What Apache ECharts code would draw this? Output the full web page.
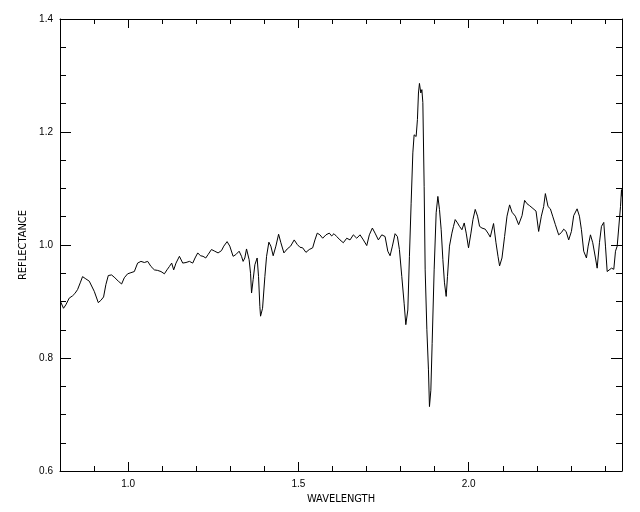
<!DOCTYPE html>
<html>
<head>
<meta charset="utf-8">
<script src="https://cdn.jsdelivr.net/npm/echarts@6/dist/echarts.min.js"></script>
<style>
html, body { margin: 0; padding: 0; background: #ffffff; }
#chart { width: 640px; height: 512px; }
</style>
</head>
<body>
<div id="chart"></div>
<script>
// ---- data ----
const wavelength = [
  0.8015, 0.8103, 0.8171, 0.8271, 0.8368, 0.8435, 0.8515, 0.8594, 0.8662, 0.8759,
  0.8859, 0.8906, 0.9006, 0.9124, 0.9200, 0.9279, 0.9347, 0.9418, 0.9515, 0.9612,
  0.9712, 0.9809, 0.9888, 0.9985, 1.0082, 1.0182, 1.0279, 1.0376, 1.0476, 1.0574,
  1.0671, 1.0771, 1.0868, 1.0965, 1.1065, 1.1141, 1.1212, 1.1279, 1.1338, 1.1406,
  1.1506, 1.1603, 1.1700, 1.1800, 1.1897, 1.1965, 1.2044, 1.2124, 1.2200, 1.2279,
  1.2347, 1.2447, 1.2544, 1.2641, 1.2741, 1.2809, 1.2906, 1.2985, 1.3082, 1.3162,
  1.3259, 1.3329, 1.3376, 1.3426, 1.3476, 1.3524, 1.3553, 1.3594, 1.3624, 1.3671,
  1.3721, 1.3788, 1.3829, 1.3868, 1.3888, 1.3947, 1.4015, 1.4065, 1.4132, 1.4191,
  1.4259, 1.4338, 1.4418, 1.4485, 1.4574, 1.4671, 1.4771, 1.4876, 1.4965, 1.5044,
  1.5124, 1.5221, 1.5318, 1.5418, 1.5485, 1.5553, 1.5632, 1.5712, 1.5809, 1.5906,
  1.5976, 1.6044, 1.6124, 1.6221, 1.6318, 1.6418, 1.6515, 1.6612, 1.6712, 1.6809,
  1.6906, 1.7006, 1.7082, 1.7171, 1.7250, 1.7347, 1.7447, 1.7544, 1.7624, 1.7691,
  1.7759, 1.7838, 1.7906, 1.7965, 1.8035, 1.8103, 1.8153, 1.8212, 1.8259, 1.8309,
  1.8359, 1.8397, 1.8456, 1.8494, 1.8524, 1.8553, 1.8594, 1.8624, 1.8653, 1.8691,
  1.8721, 1.8771, 1.8818, 1.8847, 1.8888, 1.8926, 1.8985, 1.9044, 1.9094, 1.9141,
  1.9191, 1.9241, 1.9288, 1.9338, 1.9376, 1.9435, 1.9506, 1.9553, 1.9603, 1.9671,
  1.9729, 1.9800, 1.9868, 1.9926, 1.9994, 2.0065, 2.0124, 2.0191, 2.0259, 2.0318,
  2.0388, 2.0485, 2.0565, 2.0632, 2.0729, 2.0800, 2.0859, 2.0906, 2.0976, 2.1053,
  2.1124, 2.1200, 2.1271, 2.1368, 2.1465, 2.1565, 2.1641, 2.1712, 2.1779, 2.1859,
  2.1906, 2.1976, 2.2053, 2.2132, 2.2200, 2.2250, 2.2329, 2.2397, 2.2465, 2.2544,
  2.2641, 2.2721, 2.2788, 2.2859, 2.2935, 2.3015, 2.3082, 2.3182, 2.3250, 2.3309,
  2.3376, 2.3456, 2.3506, 2.3574, 2.3641, 2.3721, 2.3771, 2.3838, 2.3897, 2.3965,
  2.4015, 2.4065, 2.4112, 2.4191, 2.4259, 2.4309, 2.4359, 2.4406, 2.4456, 2.4485,
  2.4500
];
const reflectance = [
  0.900, 0.888, 0.894, 0.906, 0.910, 0.914, 0.921, 0.933, 0.944, 0.940,
  0.936, 0.936, 0.918, 0.898, 0.902, 0.908, 0.930, 0.946, 0.947, 0.942,
  0.936, 0.931, 0.942, 0.949, 0.951, 0.953, 0.968, 0.971, 0.969, 0.971,
  0.962, 0.956, 0.955, 0.953, 0.949, 0.956, 0.962, 0.968, 0.956, 0.968,
  0.980, 0.968, 0.969, 0.971, 0.968, 0.977, 0.986, 0.981, 0.980, 0.977,
  0.983, 0.992, 0.989, 0.986, 0.990, 0.998, 1.006, 0.998, 0.980, 0.983,
  0.989, 0.980, 0.971, 0.977, 0.993, 0.995, 0.974, 0.950, 0.915, 0.939,
  0.965, 0.977, 0.944, 0.891, 0.874, 0.888, 0.944, 0.980, 1.005, 0.998,
  0.981, 0.998, 1.019, 1.004, 0.986, 0.993, 0.998, 1.009, 1.001, 0.996,
  0.995, 0.987, 0.992, 0.995, 1.009, 1.021, 1.018, 1.012, 1.018, 1.021,
  1.016, 1.020, 1.015, 1.009, 1.004, 1.012, 1.009, 1.018, 1.012, 1.018,
  1.009, 0.999, 1.018, 1.030, 1.021, 1.009, 1.018, 1.015, 0.989, 0.981,
  0.998, 1.020, 1.015, 0.992, 0.944, 0.897, 0.859, 0.885, 0.980, 1.074,
  1.163, 1.195, 1.192, 1.222, 1.269, 1.286, 1.269, 1.275, 1.252, 1.104,
  0.956, 0.850, 0.779, 0.714, 0.743, 0.826, 0.956, 1.057, 1.086, 1.063,
  1.027, 0.974, 0.933, 0.909, 0.944, 0.998, 1.021, 1.033, 1.045, 1.039,
  1.033, 1.027, 1.039, 1.021, 0.995, 1.021, 1.045, 1.063, 1.051, 1.033,
  1.030, 1.028, 1.021, 1.014, 1.038, 1.004, 0.980, 0.963, 0.977, 1.015,
  1.051, 1.071, 1.058, 1.051, 1.036, 1.052, 1.079, 1.073, 1.070, 1.066,
  1.068, 1.060, 1.024, 1.051, 1.068, 1.091, 1.068, 1.064, 1.051, 1.036,
  1.018, 1.022, 1.028, 1.024, 1.009, 1.024, 1.052, 1.064, 1.051, 1.027,
  0.989, 0.977, 0.998, 1.018, 1.004, 0.977, 0.959, 1.004, 1.033, 1.040,
  0.998, 0.953, 0.956, 0.959, 0.957, 0.989, 0.998, 1.000, 1.068, 1.098,
  1.086
];
const xMajorTicks = [1.0, 1.5, 2.0];
const xMinorTicks = [0.9, 1.1, 1.2, 1.3, 1.4, 1.6, 1.7, 1.8, 1.9, 2.1, 2.2, 2.3, 2.4];
const yMajorTicks = [0.6, 0.8, 1.0, 1.2, 1.4];
const yMinorTicks = [0.65, 0.7, 0.75, 0.85, 0.9, 0.95, 1.05, 1.1, 1.15, 1.25, 1.3, 1.35];
const xTitle = 'WAVELENGTH';
const yTitle = 'REFLECTANCE';
const X_MIN = 0.8, X_MAX = 2.45;
const Y_MIN = 0.6, Y_MAX = 1.4;

// ---- chart ----
const LABEL_FONT = "'Liberation Sans', Arial, sans-serif";
const NAME_FONT = "'Liberation Sans Narrow', 'DejaVu Sans Condensed', 'Liberation Sans', sans-serif";
const BLACK = '#000000';

function makeAxis(kind, position, ticks, tickLen, withLabel, withLine) {
  const isX = kind === 'x';
  const ax = {
    type: 'value',
    position: position,
    min: isX ? X_MIN : Y_MIN,
    max: isX ? X_MAX : Y_MAX,
    scale: true,
    splitLine: { show: false },
    axisLine: { show: withLine, onZero: false, lineStyle: { color: BLACK, width: 1 } },
    axisTick: { show: true, inside: true, length: tickLen, customValues: ticks,
                lineStyle: { color: BLACK, width: 1 } },
    axisLabel: { show: withLabel, customValues: ticks,
                 formatter: v => Number(v).toFixed(1),
                 color: BLACK, fontFamily: LABEL_FONT, fontSize: 10,
                 margin: isX ? 8 : 7 },
    minorTick: { show: false },
    minorSplitLine: { show: false }
  };
  return ax;
}

const xMain = makeAxis('x', 'bottom', xMajorTicks, 9, true, true);
xMain.name = xTitle;
xMain.nameLocation = 'middle';
xMain.nameGap = 18;
xMain.nameTextStyle = { color: BLACK, fontFamily: NAME_FONT, fontSize: 11 };

const yMain = makeAxis('y', 'left', yMajorTicks, 11, true, true);
yMain.name = yTitle;
yMain.nameLocation = 'middle';
yMain.nameGap = 23;
yMain.nameTextStyle = { color: BLACK, fontFamily: NAME_FONT, fontSize: 11 };

const option = {
  animation: false,
  backgroundColor: '#ffffff',
  grid: { left: 60, right: 18, top: 19, bottom: 41, containLabel: false, outerBoundsMode: 'none' },
  xAxis: [
    xMain,
    makeAxis('x', 'bottom', xMinorTicks, 5, false, false),
    makeAxis('x', 'top', xMajorTicks, 9, false, true),
    makeAxis('x', 'top', xMinorTicks, 5, false, false)
  ],
  yAxis: [
    yMain,
    makeAxis('y', 'left', yMinorTicks, 6, false, false),
    makeAxis('y', 'right', yMajorTicks, 11, false, true),
    makeAxis('y', 'right', yMinorTicks, 6, false, false)
  ],
  series: [{
    type: 'line',
    xAxisIndex: 0,
    yAxisIndex: 0,
    data: wavelength.map((w, i) => [w, reflectance[i]]),
    showSymbol: false,
    symbol: 'none',
    smooth: false,
    clip: true,
    lineStyle: { color: BLACK, width: 1 },
    emphasis: { disabled: true }
  }]
};

const chart = echarts.init(document.getElementById('chart'), null, { renderer: 'canvas' });
chart.setOption(option);
</script>
</body>
</html>
